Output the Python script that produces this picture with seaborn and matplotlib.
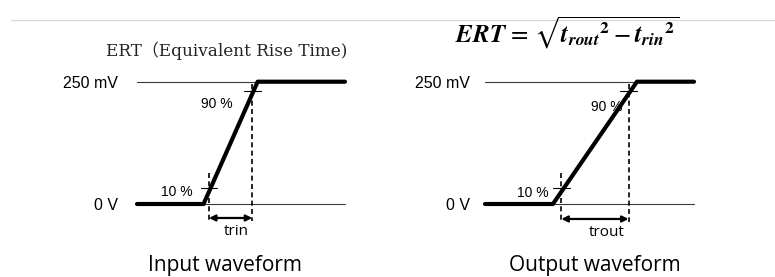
import numpy as np
import pandas as pd
import seaborn as sns
import matplotlib.pyplot as plt
from matplotlib.lines import Line2D

# ---- data ----
level_labels = ["0 V", "250 mV"]
levels_mv = [0, 250]
thresholds_pct = [10, 90]
threshold_labels = ["10 %", "90 %"]

input_time = [0.0, 3.2, 5.8, 10.0]
input_mv = [0, 0, 250, 250]
output_time = [0.0, 3.25, 7.27, 10.0]
output_mv = [0, 0, 250, 250]

panel_titles = ["Input waveform", "Output waveform"]
span_labels = ["trin", "trout"]
header_left = "ERT（Equivalent Rise Time)"
formula = (r"$\mathbfit{ERT}\,=\,\sqrt{{\mathbfit{t}_{\mathbfit{rout}}}^{\mathbf{2}}"
           r" - {\mathbfit{t}_{\mathbfit{rin}}}^{\mathbf{2}}}$")

sns.set_theme(style="white")
plt.rcParams["font.family"] = ["Liberation Sans", "DejaVu Sans"]

W, H = 775, 277
fig = plt.figure(figsize=(W / 100, H / 100), dpi=100)

# pixel geometry (layout only)
y0_px, y250_px = 204.0, 81.7
mv_per_px = 250.0 / (y0_px - y250_px)
ylim = ((y0_px - H) * mv_per_px, y0_px * mv_per_px)


def make_axes(left_px, right_px, origin_px, unit_px):
    ax = fig.add_axes([left_px / W, 0, (right_px - left_px) / W, 1])
    ax.set_xlim((left_px - origin_px) / unit_px, (right_px - origin_px) / unit_px)
    ax.set_ylim(*ylim)
    ax.axis("off")
    return ax


axL = make_axes(0, 387.5, 137, 20.8)
axR = make_axes(387.5, 775, 485, 20.9)


def draw_panel(ax, t, v, span_label, title, lab_dx, pct_dx, pct_dy, span_y,
               span_dx, label_x, label_y):
    t = np.asarray(t)
    v = np.asarray(v)
    # reference levels
    for lv, lab in zip(levels_mv, level_labels):
        ax.plot([t[0], t[-1]], [lv, lv], color="#3a3a3a", lw=0.8, zorder=1)
        ax.text(lab_dx, lv - 4, lab, ha="right", va="center", fontsize=11.5,
                color="black")
    # waveform
    df = pd.DataFrame({"t": t, "mv": v})
    sns.lineplot(data=df, x="t", y="mv", ax=ax, color="black", lw=3.0,
                 sort=False, estimator=None, zorder=3)
    # crossing times
    rise_t = t[1:3]
    rise_v = v[1:3]
    cross = [float(np.interp(p / 100 * levels_mv[1], rise_v, rise_t)) for p in thresholds_pct]
    lv10 = thresholds_pct[0] / 100 * levels_mv[1]
    lv90 = thresholds_pct[1] / 100 * levels_mv[1]
    # dashed verticals
    ax.plot([cross[0], cross[0]], [lv10 + 38, span_y - 6], color="black", lw=1.2,
            ls=(0, (3, 2)), zorder=2)
    ax.plot([cross[1], cross[1]], [levels_mv[1] - 5, span_y - 6], color="black", lw=1.2,
            ls=(0, (3, 2)), zorder=2)
    # small tick marks
    for c, lv in zip(cross, [lv10 + 8, lv90 + 6]):
        ax.plot([c - 0.4, c + 0.4], [lv, lv], color="black", lw=0.8, zorder=2)
    # percentage labels
    for c, lv, lab, dx, dy in zip(cross, [lv10, lv90], threshold_labels, pct_dx, pct_dy):
        ax.text(c - dx, lv + dy, lab, ha="right", va="center", fontsize=10,
                color="black")
    # span arrow
    ax.annotate("", xy=(cross[1], span_y), xytext=(cross[0], span_y),
                arrowprops=dict(arrowstyle="<|-|>", color="black", lw=1.6,
                                mutation_scale=9, shrinkA=0, shrinkB=0))
    ax.text((cross[0] + cross[1]) / 2 + span_dx, span_y - 27, span_label, ha="center",
            va="center", fontsize=11, family=["Open Sans", "DejaVu Sans"], color="black")
    ax.text(label_x, label_y, title, ha="center", va="center",
            fontsize=15, family=["Open Sans", "DejaVu Sans"], color="black")


draw_panel(axL, input_time, input_mv, span_labels[0], panel_titles[0],
           lab_dx=-0.9, pct_dx=[0.77, 0.96], pct_dy=[0, -20], span_y=-28.6,
           span_dx=0.25, label_x=4.23, label_y=-126)
draw_panel(axR, output_time, output_mv, span_labels[1], panel_titles[1],
           lab_dx=-0.72, pct_dx=[0.62, 0.3], pct_dy=[-3, -26], span_y=-30.6,
           span_dx=0.55, label_x=5.26, label_y=-126)

# headers
axL.text(4.33, 314, header_left, ha="center", va="center", fontsize=12.2,
         family=["DejaVu Serif", "Noto Sans CJK JP"], color="#222222")
axR.text(3.92, 350, formula, ha="center", va="center", fontsize=18,
         math_fontfamily="stix", color="black")

# top separator line
fig.add_artist(Line2D([11 / W, 1], [1 - 20 / H, 1 - 20 / H], transform=fig.transFigure,
                      color="#d9d9d9", lw=0.9, zorder=0))

fig.savefig("out.png", dpi=100, facecolor="white")
